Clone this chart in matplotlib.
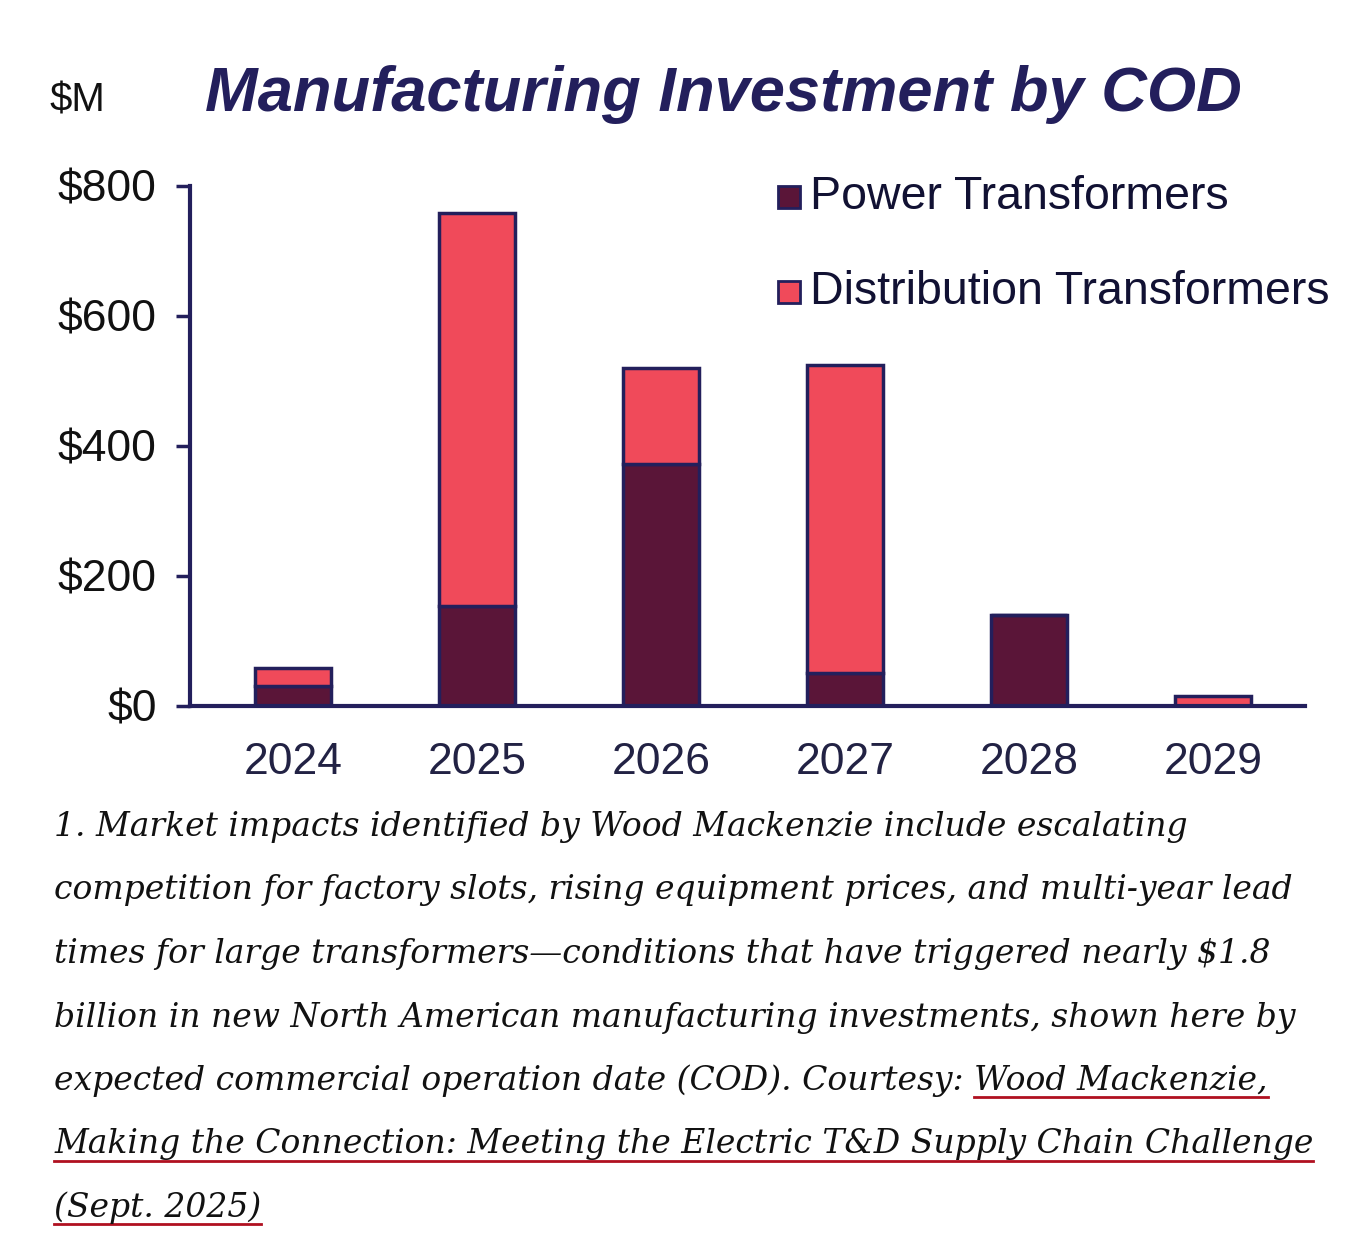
import matplotlib
matplotlib.use('Agg')
import matplotlib.pyplot as plt
from matplotlib.patches import Rectangle

years = ['2024', '2025', '2026', '2027', '2028', '2029']
power = [31, 154, 372, 51, 140, 0]
distribution = [27, 604, 148, 474, 0, 15]
yticks = [0, 200, 400, 600, 800]

NAVY = '#231f5c'
POWER_C = '#5a1538'
DIST_C = '#f04a5a'

fig = plt.figure(figsize=(13.6, 12.58), dpi=100)
ax = fig.add_axes([190 / 1360, 1 - 706 / 1258, 1115 / 1360, 520 / 1258])

x = list(range(len(years)))
ax.bar(x, power, width=0.41, color=POWER_C, edgecolor=NAVY, linewidth=2.5)
ax.bar(x, distribution, width=0.41, bottom=power, color=DIST_C, edgecolor=NAVY, linewidth=2.5)

ax.set_xlim(-0.56, 5.5)
ax.set_ylim(0, 800)
ax.set_xticks(x)
ax.set_xticklabels(years)
ax.set_yticks(yticks)
ax.set_yticklabels([f'${v}' for v in yticks])
for s in ['top', 'right']:
    ax.spines[s].set_visible(False)
for s in ['left', 'bottom']:
    ax.spines[s].set_color(NAVY)
    ax.spines[s].set_linewidth(3)
ax.tick_params(axis='y', length=10, width=2.5, color=NAVY, pad=14,
               labelsize=32, labelcolor='#111111')
ax.tick_params(axis='x', length=0, pad=26, labelsize=32, labelcolor='#222244')
for lab in ax.get_xticklabels() + ax.get_yticklabels():
    lab.set_family('Liberation Sans')

fig.text(50 / 1360, 1 - 100 / 1258, '$M', fontsize=29, family='Liberation Sans',
         color='#111111', va='center')
fig.text(205 / 1360, 1 - 95 / 1258, 'Manufacturing Investment by COD', fontsize=45.5,
         family='Liberation Sans', weight='bold', style='italic', color=NAVY, va='center')

# legend
for i, (name, c) in enumerate([('Power Transformers', POWER_C), ('Distribution Transformers', DIST_C)]):
    yc = 197 + 95 * i
    fig.patches.append(Rectangle((778 / 1360, 1 - (yc + 11) / 1258), 22 / 1360, 22 / 1258,
                                 transform=fig.transFigure, facecolor=c, edgecolor=NAVY, lw=2))
    fig.text(810 / 1360, 1 - yc / 1258, name, fontsize=33.5, family='Liberation Sans',
             color='#111133', va='center')

# caption
lines = [
    ('1. Market impacts identified by Wood Mackenzie include escalating', None),
    ('competition for factory slots, rising equipment prices, and multi-year lead', None),
    ('times for large transformers\u2014conditions that have triggered nearly $1.8', None),
    ('billion in new North American manufacturing investments, shown here by', None),
    ('expected commercial operation date (COD). Courtesy: ', 'Wood Mackenzie,'),
    ('', 'Making the Connection: Meeting the Electric T&D Supply Chain Challenge'),
    ('', '(Sept. 2025)'),
]
fig.canvas.draw()
r = fig.canvas.get_renderer()
for i, (plain, link) in enumerate(lines):
    yb = 1 - (826 + 63.5 * i + 10) / 1258
    x0 = 54 / 1360
    if plain:
        t = fig.text(x0, yb, plain, fontsize=23.8, family='DejaVu Serif', style='italic',
                     color='#111111', va='baseline')
        bb = t.get_window_extent(r)
        x0 = bb.x1 / 1360
    if link:
        t = fig.text(x0, yb, link, fontsize=23.8, family='DejaVu Serif', style='italic',
                     color='#111111', va='baseline')
        bb = t.get_window_extent(r)
        uy = yb - 7 / 1258
        fig.add_artist(plt.Line2D([bb.x0 / 1360, bb.x1 / 1360], [uy, uy],
                                  transform=fig.transFigure, color='#b01020', lw=2))

fig.savefig('out.png', dpi=100)
